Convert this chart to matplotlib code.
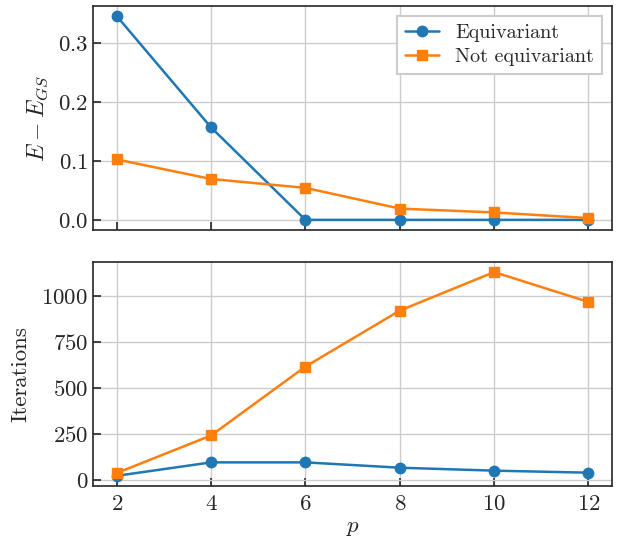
import matplotlib
matplotlib.use("Agg")
import matplotlib.pyplot as plt
import seaborn as sns

# data
p = [2, 4, 6, 8, 10, 12]
energy_equiv = [0.345, 0.157, 0.001, 0.001, 0.001, 0.001]
energy_not_equiv = [0.103, 0.070, 0.055, 0.020, 0.0135, 0.004]
iters_equiv = [25, 98, 98, 69, 53, 42]
iters_not_equiv = [40, 244, 618, 922, 1131, 969]

sns.set_style("ticks")
plt.rcParams['font.family'] = 'serif'
plt.rcParams['font.serif'] = ['cmr10']
plt.rcParams['mathtext.fontset'] = 'cm'
plt.rcParams['axes.formatter.use_mathtext'] = True
plt.rcParams['xtick.direction'] = 'in'
plt.rcParams['ytick.direction'] = 'in'
plt.rcParams['font.size'] = 16.5

fig = plt.figure(figsize=(6.17, 5.4), dpi=100)
ax1 = fig.add_axes([0.151, 0.574, 0.841, 0.415])
ax2 = fig.add_axes([0.151, 0.100, 0.841, 0.415], sharex=ax1)

blue = '#1f77b4'
orange = '#ff7f0e'

ax1.plot(p, energy_equiv, '-o', color=blue, lw=1.8, ms=7.5, label='Equivariant')
ax1.plot(p, energy_not_equiv, '-s', color=orange, lw=1.8, ms=7.5, label='Not equivariant')
ax1.set_ylabel(r'$E - E_{GS}$', fontsize=17, labelpad=6)
ax1.set_yticks([0.0, 0.1, 0.2, 0.3])
ax1.grid(True, color='#cccccc', lw=1)
ax1.tick_params(axis='x', labelbottom=False)
leg = ax1.legend(loc='upper right', fancybox=False, framealpha=1, edgecolor='#cccccc',
                 fontsize=14.5, handlelength=1.7, borderpad=0.4, labelspacing=0.3)
leg.get_frame().set_linewidth(1.5)

ax2.plot(p, iters_equiv, '-o', color=blue, lw=1.8, ms=7.5)
ax2.plot(p, iters_not_equiv, '-s', color=orange, lw=1.8, ms=7.5)
ax2.set_ylabel('Iterations', labelpad=8)
ax2.set_xlabel(r'$p$', labelpad=3)
ax2.set_yticks([0, 250, 500, 750, 1000])
ax2.set_xticks(p)
ax2.tick_params(axis='x', pad=6)
ax2.grid(True, color='#cccccc', lw=1)

for ax in (ax1, ax2):
    ax.tick_params(length=6, width=1.2, color='#262626')
    for s in ax.spines.values():
        s.set_color('#262626')
        s.set_linewidth(1.2)

fig.savefig('out.png', dpi=100)
